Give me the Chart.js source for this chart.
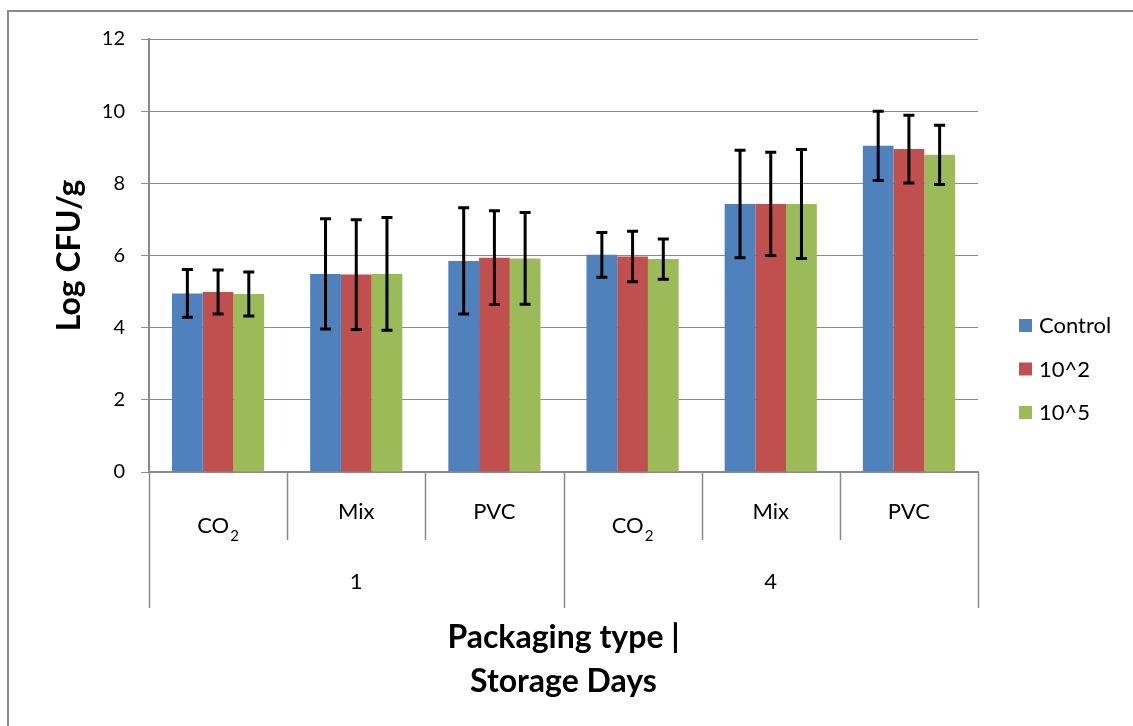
<!DOCTYPE html>
<html>
<head>
<meta charset="utf-8">
<script src="https://cdn.jsdelivr.net/npm/chart.js@4.4.1/dist/chart.umd.min.js"></script>
<style>
  html, body { margin: 0; padding: 0; background: #fff; }
  #wrap { width: 1133px; height: 726px; }
</style>
</head>
<body>
<div id="wrap"><canvas id="cfuChart" width="1133" height="726"></canvas></div>
<script>
// Packaging type per bar group, and storage day per block of three groups
const packaging = ['CO2', 'Mix', 'PVC', 'CO2', 'Mix', 'PVC'];
const storageDays = ['1', '4'];

// Mean Log CFU/g per treatment
const controlVals = [4.95, 5.49, 5.85, 6.02, 7.43, 9.04];
const tenTwoVals  = [4.99, 5.47, 5.94, 5.97, 7.43, 8.95];
const tenFiveVals = [4.93, 5.49, 5.92, 5.90, 7.43, 8.79];

// Standard deviation (± around the mean)
const controlErr = [0.66, 1.53, 1.47, 0.62, 1.49, 0.96];
const tenTwoErr  = [0.61, 1.52, 1.30, 0.70, 1.43, 0.94];
const tenFiveErr = [0.61, 1.56, 1.27, 0.56, 1.51, 0.82];

const yTicks = [0, 2, 4, 6, 8, 10, 12];

const FONT = 'Lato, Carlito, Calibri, sans-serif';
const GRID = '#8a8a8a';

// error bars, drawn on top of the bars using the y scale
const errorBars = {
  id: 'errorBars',
  afterDatasetsDraw(chart) {
    const ctx = chart.ctx;
    const y = chart.scales.y;
    ctx.save();
    ctx.strokeStyle = '#000';
    ctx.lineWidth = 3;
    chart.data.datasets.forEach((ds, di) => {
      const meta = chart.getDatasetMeta(di);
      meta.data.forEach((bar, i) => {
        const v = ds.data[i], e = ds.errors[i];
        const top = y.getPixelForValue(v + e);
        const bot = y.getPixelForValue(v - e);
        const x = bar.x;
        ctx.beginPath();
        ctx.moveTo(x, top); ctx.lineTo(x, bot);
        ctx.moveTo(x - 5.5, top); ctx.lineTo(x + 5.5, top);
        ctx.moveTo(x - 5.5, bot); ctx.lineTo(x + 5.5, bot);
        ctx.stroke();
      });
    });
    ctx.restore();
  }
};

// two level category axis: packaging type, then storage day
const groupAxis = {
  id: 'groupAxis',
  afterDraw(chart) {
    const ctx = chart.ctx;
    const x = chart.scales.x;
    const area = chart.chartArea;
    const n = packaging.length;
    const step = (area.right - area.left) / n;
    const perDay = n / storageDays.length;
    ctx.save();
    ctx.strokeStyle = GRID;
    ctx.lineWidth = 1.5;
    for (let i = 0; i <= n; i++) {
      const bx = Math.round(area.left + i * step) + 0.5;
      const outer = i % perDay === 0;
      ctx.beginPath();
      ctx.moveTo(bx, area.bottom);
      ctx.lineTo(bx, outer ? 608 : 540);
      ctx.stroke();
    }
    ctx.fillStyle = '#000';
    ctx.textAlign = 'center';
    ctx.textBaseline = 'middle';
    packaging.forEach((label, i) => {
      const cx = x.getPixelForValue(i);
      const m = label.match(/^([A-Za-z]+)(\d)$/);
      if (m) {
        ctx.font = '22px ' + FONT;
        const w1 = ctx.measureText(m[1]).width;
        ctx.font = '15px ' + FONT;
        const w2 = ctx.measureText(m[2]).width;
        const sx = cx - (w1 + w2 + 1) / 2;
        ctx.textAlign = 'left';
        ctx.font = '22px ' + FONT;
        ctx.fillText(m[1], sx, 526);
        ctx.font = '15px ' + FONT;
        ctx.fillText(m[2], sx + w1 + 1, 536);
        ctx.textAlign = 'center';
      } else {
        ctx.font = '22px ' + FONT;
        ctx.fillText(label, cx, 512);
      }
    });
    ctx.font = '22px ' + FONT;
    storageDays.forEach((d, j) => {
      const cx = area.left + (j + 0.5) * perDay * step;
      ctx.fillText(d, cx, 582);
    });
    ctx.restore();
  }
};

// legend on the right and the frame around the chart
const sideLegend = {
  id: 'sideLegend',
  beforeDraw(chart) {
    const ctx = chart.ctx;
    ctx.save();
    ctx.fillStyle = '#fff';
    ctx.fillRect(0, 0, chart.width, chart.height);
    ctx.strokeStyle = GRID;
    ctx.lineWidth = 2;
    ctx.beginPath();
    ctx.moveTo(8, chart.height);
    ctx.lineTo(8, 11);
    ctx.lineTo(chart.width, 11);
    ctx.stroke();
    ctx.restore();
  },
  afterDraw(chart) {
    const ctx = chart.ctx;
    ctx.save();
    ctx.font = '22px ' + FONT;
    ctx.textBaseline = 'middle';
    ctx.textAlign = 'left';
    chart.data.datasets.forEach((ds, i) => {
      const cy = 326 + i * 43.5;
      ctx.fillStyle = ds.backgroundColor;
      ctx.fillRect(1019, cy - 7, 13, 13);
      ctx.fillStyle = '#000';
      ctx.fillText(ds.label, 1039, cy);
    });
    ctx.restore();
  }
};

new Chart(document.getElementById('cfuChart'), {
  type: 'bar',
  data: {
    labels: packaging,
    datasets: [
      { label: 'Control', data: controlVals, errors: controlErr, backgroundColor: '#4F81BD' },
      { label: '10^2', data: tenTwoVals, errors: tenTwoErr, backgroundColor: '#C0504D' },
      { label: '10^5', data: tenFiveVals, errors: tenFiveErr, backgroundColor: '#9BBB59' }
    ]
  },
  options: {
    responsive: false,
    animation: false,
    layout: { padding: { left: 0, top: 39, right: 155, bottom: 0 } },
    datasets: { bar: { categoryPercentage: 0.667, barPercentage: 1, borderWidth: 0 } },
    plugins: { legend: { display: false }, tooltip: { enabled: false } },
    scales: {
      x: {
        ticks: { display: false },
        grid: { display: false, drawTicks: false },
        border: { color: GRID, width: 2 },
        afterFit(s) { s.height = 254; },
        title: {
          display: true,
          text: ['Packaging type |', 'Storage Days'],
          color: '#000',
          font: { family: FONT, size: 32, weight: 'bold', lineHeight: 44 / 32 },
          padding: { top: 0, bottom: 22 }
        }
      },
      y: {
        min: 0,
        max: 12,
        afterBuildTicks(s) { s.ticks = yTicks.map(v => ({ value: v })); },
        ticks: { color: '#000', padding: 16, font: { family: FONT, size: 20 } },
        grid: { color: GRID, lineWidth: 1, tickLength: 8 },
        border: { color: GRID, width: 2 },
        afterFit(s) { s.width = 149; },
        title: {
          display: true,
          text: 'Log CFU/g',
          color: '#000',
          font: { family: FONT, size: 32, weight: 'bold' },
          padding: { top: 50, bottom: 0 }
        }
      }
    }
  },
  plugins: [errorBars, groupAxis, sideLegend]
});
</script>
</body>
</html>
